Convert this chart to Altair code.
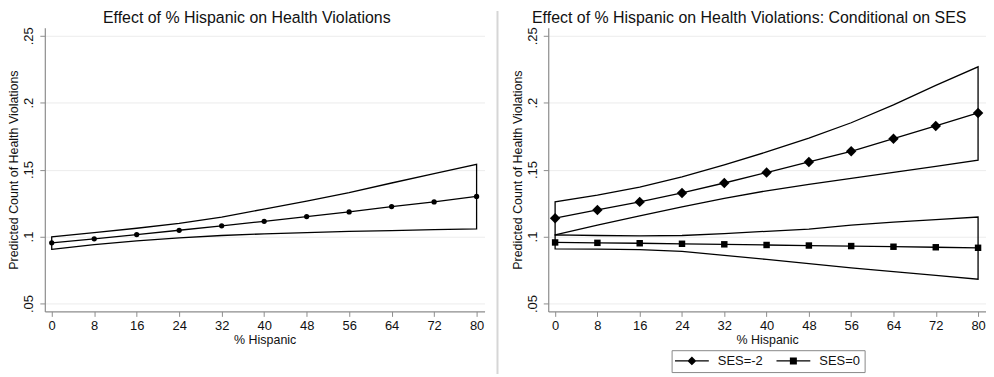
import altair as alt
import pandas as pd

# ---- data ----
pct_hispanic = [0, 8, 16, 24, 32, 40, 48, 56, 64, 72, 80]

left_pred = [.0953, .0983, .1015, .1047, .1080, .1114, .1149, .1184, .1224, .1259, .1300]
left_lo   = [.0905, .0940, .0968, .0990, .1008, .1020, .1030, .1038, .1045, .1051, .1057]
left_hi   = [.0998, .1030, .1062, .1098, .1145, .1205, .1265, .1328, .1400, .1470, .1540]

ses_m2_pred = [.1137, .1199, .1259, .1326, .1400, .1478, .1557, .1637, .1731, .1826, .1923]
ses_m2_lo   = [.1012, .1085, .1155, .1222, .1285, .1342, .1390, .1435, .1480, .1525, .1570]
ses_m2_hi   = [.1260, .1310, .1370, .1445, .1535, .1632, .1735, .1850, .1983, .2129, .2268]

ses_0_pred = [.0956, .0953, .0950, .0946, .0942, .0937, .0933, .0929, .0924, .0920, .0916]
ses_0_lo   = [.0908, .0906, .0902, .0889, .0860, .0829, .0797, .0766, .0738, .0710, .0681]
ses_0_hi   = [.1012, .1008, .1005, .1008, .1022, .1039, .1056, .1085, .1107, .1127, .1146]

series_names = ["SES=-2", "SES=0"]
x_ticks = [0, 8, 16, 24, 32, 40, 48, 56, 64, 72, 80]
y_ticks = [.05, .1, .15, .2, .25]

left_title = "Effect of % Hispanic on Health Violations"
right_title = "Effect of % Hispanic on Health Violations: Conditional on SES"
x_title = "% Hispanic"
y_title = "Predicted Count of Health Violations"

FONT = "Liberation Sans"
TXT = "#111111"

df_left = pd.DataFrame({"x": pct_hispanic, "pred": left_pred, "lo": left_lo, "hi": left_hi})
df_right = pd.concat([
    pd.DataFrame({"x": pct_hispanic, "pred": ses_m2_pred, "lo": ses_m2_lo, "hi": ses_m2_hi,
                  "series": series_names[0]}),
    pd.DataFrame({"x": pct_hispanic, "pred": ses_0_pred, "lo": ses_0_lo, "hi": ses_0_hi,
                  "series": series_names[1]}),
], ignore_index=True)

x_scale = alt.Scale(domain=[-1.3, 81.5], nice=False, zero=False)
y_scale = alt.Scale(domain=[.0441, .2559], nice=False, zero=False)

x_axis = alt.Axis(values=x_ticks, title=x_title, grid=False, tickSize=5,
                  labelPadding=3, titlePadding=1)
y_axis = alt.Axis(values=y_ticks, title=y_title, grid=True, tickSize=5,
                  labelAngle=-90, labelAlign="center", labelBaseline="bottom",
                  labelPadding=4, titlePadding=2,
                  labelExpr="substring(format(datum.value, '.2~f'), 1)")


def X():
    return alt.X("x:Q", scale=x_scale, axis=x_axis)


def Y(field):
    return alt.Y(f"{field}:Q", scale=y_scale, axis=y_axis)


def panel_title(text):
    return alt.TitleParams(text=text, fontSize=16, font=FONT, color=TXT,
                           fontWeight="normal", anchor="middle", frame="group",
                           dx=-18, offset=-12, baseline="alphabetic")


# ---- left panel ----
l_area = alt.Chart(df_left).mark_area(fillOpacity=0, stroke="black", strokeWidth=1.3).encode(
    x=X(), y=Y("lo"), y2="hi")
l_line = alt.Chart(df_left).mark_line(color="black", strokeWidth=1.3).encode(x=X(), y=Y("pred"))
l_pts = alt.Chart(df_left).mark_point(filled=True, color="black", size=28, opacity=1).encode(
    x=X(), y=Y("pred"))
left = alt.layer(l_area, l_line, l_pts).properties(width=442, height=285,
                                                   title=panel_title(left_title))

# ---- separator ----
sep = alt.Chart(pd.DataFrame({"v": [0]})).mark_rule(color="#d6d6d6", strokeWidth=2).encode(
    x=alt.value(0), y=alt.value(-17), y2=alt.value(348)).properties(width=38, height=285)

# ---- right panel ----
r_area = alt.Chart(df_right).mark_area(fillOpacity=0, stroke="black", strokeWidth=1.3).encode(
    x=X(), y=Y("lo"), y2="hi", detail="series:N")
r_line = alt.Chart(df_right).mark_line(color="black", strokeWidth=1.3).encode(
    x=X(), y=Y("pred"), detail="series:N")
r_pts = alt.Chart(df_right).mark_point(filled=True, color="black", opacity=1).encode(
    x=X(), y=Y("pred"),
    shape=alt.Shape("series:N", scale=alt.Scale(domain=series_names, range=["diamond", "square"]),
                    legend=None),
    size=alt.Size("series:N", scale=alt.Scale(domain=series_names, range=[110, 42]), legend=None))

# legend symbols: nominal 13px symbol (6.5px per unit); a thin filled bar 34px long
# with the marker in its middle
leg_diamond = ("M-1.09,-0.1L4.14,-0.1L4.14,0.1L-1.09,0.1Z"
               "M1.52,-0.69L2.21,0L1.52,0.69L0.83,0Z")
leg_square = ("M-1.09,-0.1L4.14,-0.1L4.14,0.1L-1.09,0.1Z"
              "M0.98,-0.54L2.06,-0.54L2.06,0.54L0.98,0.54Z")
r_leg = alt.Chart(df_right).transform_calculate(key="datum.series").mark_point(
    filled=True, color="black", size=0).encode(
    x=X(), y=Y("pred"),
    shape=alt.Shape("key:N", scale=alt.Scale(domain=series_names, range=[leg_diamond, leg_square]),
                    legend=alt.Legend(orient="none", legendX=124, legendY=324,
                                      direction="horizontal", title=None,
                                      symbolSize=169, symbolStrokeWidth=0,
                                      symbolFillColor="black",
                                      symbolOpacity=1, labelFont=FONT, labelFontSize=13,
                                      labelColor=TXT, labelOffset=29.5, columnPadding=13,
                                      strokeColor="#888888", fillColor="white", padding=4)))

right = alt.layer(r_area, r_line, r_pts, r_leg).resolve_scale(shape="independent").properties(
    width=440, height=285, title=panel_title(right_title))

chart = alt.hconcat(left, sep, right, spacing=13, bounds="flush").properties(
    padding=0
).configure_view(stroke=None).configure_axis(
    labelFont=FONT, titleFont=FONT, labelFontSize=13, titleFontSize=12.5,
    labelColor=TXT, titleColor=TXT, titleFontWeight="normal",
    domainColor="#8c8c8c", tickColor="#8c8c8c", gridColor="#ececec", domainWidth=1.2
)

chart.save("out.html", embed_options={"renderer": "svg", "actions": False})
